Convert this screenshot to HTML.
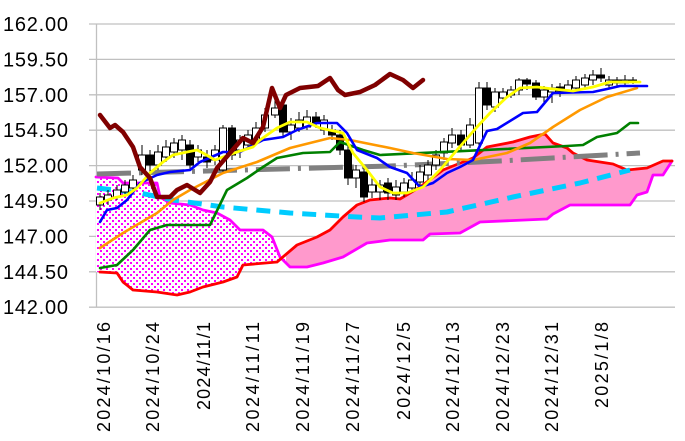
<!DOCTYPE html>
<html><head><meta charset="utf-8"><style>
html,body{margin:0;padding:0;background:#fff;}
svg{display:block;font-family:"Liberation Sans",sans-serif;}
</style></head><body>
<svg width="685" height="441" viewBox="0 0 685 441" xmlns="http://www.w3.org/2000/svg">
<defs>
<pattern id="dots" width="6" height="6" patternUnits="userSpaceOnUse">
<rect width="6" height="6" fill="#fff"/>
<rect x="1" y="1" width="2" height="2" fill="#ff00ff"/>
<rect x="4" y="4" width="2" height="2" fill="#ff00ff"/>
</pattern>
<clipPath id="cl"><rect x="0" y="0" width="286" height="441"/></clipPath>
<clipPath id="cr"><rect x="286" y="0" width="400" height="441"/></clipPath>
</defs>
<g stroke="#c0c0c0" stroke-width="1.3">
<line x1="89" y1="24" x2="675" y2="24"/><line x1="89" y1="59.4" x2="675" y2="59.4"/>
<line x1="89" y1="94.8" x2="675" y2="94.8"/><line x1="89" y1="130.2" x2="675" y2="130.2"/>
<line x1="89" y1="165.6" x2="675" y2="165.6"/><line x1="89" y1="201" x2="675" y2="201"/>
<line x1="89" y1="236.4" x2="675" y2="236.4"/><line x1="89" y1="271.8" x2="675" y2="271.8"/>
<line x1="89" y1="307.2" x2="675" y2="307.2"/>
<line x1="96.5" y1="24" x2="96.5" y2="307"/>
</g>
<g font-size="20" fill="#000">
<text x="3" y="31" textLength="65">162.00</text><text x="3" y="66.4" textLength="65">159.50</text>
<text x="3" y="101.8" textLength="65">157.00</text><text x="3" y="137.2" textLength="65">154.50</text>
<text x="3" y="172.6" textLength="65">152.00</text><text x="3" y="208" textLength="65">149.50</text>
<text x="3" y="243.4" textLength="65">147.00</text><text x="3" y="278.8" textLength="65">144.50</text>
<text x="3" y="314.2" textLength="65">142.00</text>
</g>
<g font-size="18" fill="#000" text-anchor="end">
<text transform="translate(110,322) rotate(-90)" textLength="110">2024/10/16</text>
<text transform="translate(159,322) rotate(-90)" textLength="110">2024/10/24</text>
<text transform="translate(210,322) rotate(-90)" textLength="88">2024/11/1</text>
<text transform="translate(259,322) rotate(-90)" textLength="110">2024/11/11</text>
<text transform="translate(309,322) rotate(-90)" textLength="110">2024/11/19</text>
<text transform="translate(359,322) rotate(-90)" textLength="110">2024/11/27</text>
<text transform="translate(410,322) rotate(-90)" textLength="98">2024/12/5</text>
<text transform="translate(459,322) rotate(-90)" textLength="110">2024/12/13</text>
<text transform="translate(509,322) rotate(-90)" textLength="110">2024/12/23</text>
<text transform="translate(558,322) rotate(-90)" textLength="110">2024/12/31</text>
<text transform="translate(608,322) rotate(-90)" textLength="86">2025/1/8</text>
</g>
<g id="cloud">
<polygon id="cp" points="96,177 118,178 123,183 137,183 157,183 160,197 170,203 190,205 203,210 217,213 230,220 240,230 263,230 272,237 280,257 290,267 307,267 323,263 343,257 367,243 390,240 423,240 430,234 460,233 480,222 547,219 553,214 570,205 630,205 637,195 647,192 653,175 663,175 672,161 663,161 647,168 627,170 613,164 587,160 573,153 567,148 553,143 545,134 530,137 513,142 487,147 473,158 443,170 420,187 400,199 390,198 370,200 357,205 343,217 330,230 317,237 297,245 277,262 243,265 237,277 223,282 203,287 190,292 177,295 157,292 133,290 123,282 117,273 100,272 96,272"/>
</g>
<use href="#cp" fill="url(#dots)" clip-path="url(#cl)"/>
<use href="#cp" fill="#ff99cc" clip-path="url(#cr)"/>
<g fill="none" stroke-linejoin="round" stroke-linecap="round">
<polyline stroke="#ff00ff" stroke-width="2.8" points="96,177 118,178 123,183 137,183 157,183 160,197 170,203 190,205 203,210 217,213 230,220 240,230 263,230 272,237 280,257 290,267 307,267 323,263 343,257 367,243 390,240 423,240 430,234 460,233 480,222 547,219 553,214 570,205 630,205 637,195 647,192 653,175 663,175 672,161"/>
<polyline stroke="#ff0000" stroke-width="2.8" points="100,272 117,273 123,282 133,290 157,292 177,295 190,292 203,287 223,282 237,277 243,265 277,262 297,245 317,237 330,230 343,217 357,205 370,200 390,198 400,199 420,187 443,170 473,158 487,147 513,142 530,137 545,134 553,143 567,148 573,153 587,160 613,164 627,170 647,168 663,161 672,161"/>
<polyline stroke="#00ccff" stroke-width="5" stroke-dasharray="14,9" stroke-linecap="butt" points="97,188 140,193 173,200 223,207 290,213 357,217 380,218 447,212 513,197 580,183 630,170"/>
<polyline stroke="#808080" stroke-width="5" stroke-dasharray="34,8,3,8" stroke-linecap="butt" points="97,174 390,166 500,161 640,153"/>
</g>
<g id="candles" stroke="#000" stroke-width="1"></g>
<g fill="none" stroke-linejoin="round" stroke-linecap="round">
<polyline stroke="#008000" stroke-width="2.6" points="100,268 117,265 133,250 150,230 167,225 210,225 227,190 247,178 263,167 277,158 303,153 330,152 340,142 363,150 380,155 567,146 583,145 597,137 617,133 630,123 638,123"/>
<polyline stroke="#ff9900" stroke-width="2.6" points="100,248 123,233 157,213 173,200 190,190 223,173 257,162 290,148 330,138 350,140 390,148 413,153 447,159 473,160 507,153 530,143 553,127 580,110 607,97 637,88"/>
<polyline stroke="#0000ff" stroke-width="2.6" points="100,222 107,210 117,208 127,200 140,183 157,175 170,172 190,170 200,162 223,152 240,152 263,140 283,137 297,130 317,123 337,123 347,133 357,150 377,158 390,167 407,173 420,187 433,183 447,173 460,167 473,160 487,131 497,129 523,113 537,112 553,93 593,92 607,89 620,86 647,86"/>
<polyline stroke="#ffff00" stroke-width="2.8" points="100,203 113,198 127,195 137,188 150,173 163,162 173,155 187,152 197,150 203,153 215,160 223,157 237,152 253,147 260,140 277,128 290,122 307,122 320,128 343,133 353,153 367,170 380,187 393,193 407,193 423,187 440,170 457,150 477,127 490,113 507,97 520,88 537,87 553,89 573,91 593,87 610,82 640,82"/>
<polyline stroke="#800000" stroke-width="4.5" points="100,115 110,128 115,125 123,132 133,147 140,167 150,178 157,197 170,197 177,190 187,185 200,193 210,182 217,168 230,153 243,138 253,143 263,127 272,88 280,108 286,95 300,88 318,86 330,78 338,90 345,95 360,92 375,85 390,74 403,80 413,88 423,80"/>
</g>
<script>
var c=[[100,197,205,0,193,210],[108,195,200,0,190,205],[117,190,197,0,185,200],[125,185,192,0,180,195],[133,180,188,0,175,192],[142,155,170,0,145,175],[150,155,165,1,150,175],[158,152,165,0,145,170],[166,147,157,0,140,162],[174,143,152,0,138,158],[182,140,150,0,135,160],[190,145,165,1,140,170],[198,150,157,0,145,162],[207,157,162,1,150,168],[215,150,160,0,145,165],[223,128,170,0,125,172],[232,128,155,1,125,160],[240,140,150,0,135,158],[248,135,145,0,130,150],[256,128,140,0,122,145],[265,115,128,0,108,132],[275,108,115,0,100,118],[283,105,132,1,100,138],[291,125,132,0,118,140],[299,120,128,0,112,132],[307,117,127,0,110,130],[316,117,123,1,112,128],[324,120,130,0,115,135],[332,130,135,1,125,140],[340,135,150,1,130,155],[348,150,178,1,145,185],[356,170,178,0,165,188],[364,172,197,1,168,202],[372,185,192,0,178,198],[380,185,192,0,180,200],[388,183,193,1,178,200],[396,187,195,0,180,200],[404,183,192,0,178,197],[412,180,188,0,172,193],[420,172,182,0,165,188],[428,165,175,0,160,180],[436,155,165,0,150,170],[444,142,153,0,138,160],[452,135,143,0,128,148],[461,135,145,1,130,150],[470,125,145,0,118,148],[479,88,143,0,82,146],[487,88,105,1,82,110],[495,92,107,0,88,112],[503,92,98,0,88,102],[511,90,95,0,86,98],[519,80,90,0,78,95],[527,80,84,1,78,90],[536,83,97,1,80,100],[544,90,97,0,86,105],[552,88,92,0,84,103],[560,87,91,1,83,97],[568,85,90,0,80,93],[576,80,88,0,76,92],[585,78,85,0,74,90],[593,75,80,0,70,85],[601,75,78,1,68,82],[609,80,85,0,76,88],[617,80,83,1,77,86],[625,80,83,0,75,85],[633,80,82,1,77,84]];
var g=document.getElementById('candles'),ns='http://www.w3.org/2000/svg';
c.forEach(function(d){var l=document.createElementNS(ns,'line');l.setAttribute('x1',d[0]);l.setAttribute('x2',d[0]);l.setAttribute('y1',d[4]);l.setAttribute('y2',d[5]);g.appendChild(l);
var r=document.createElementNS(ns,'rect');r.setAttribute('x',d[0]-3.5);r.setAttribute('width',7);r.setAttribute('y',d[1]);r.setAttribute('height',Math.max(1,d[2]-d[1]));r.setAttribute('fill',d[3]?'#000':'#fff');g.appendChild(r);});
</script>
</svg>
</body></html>
